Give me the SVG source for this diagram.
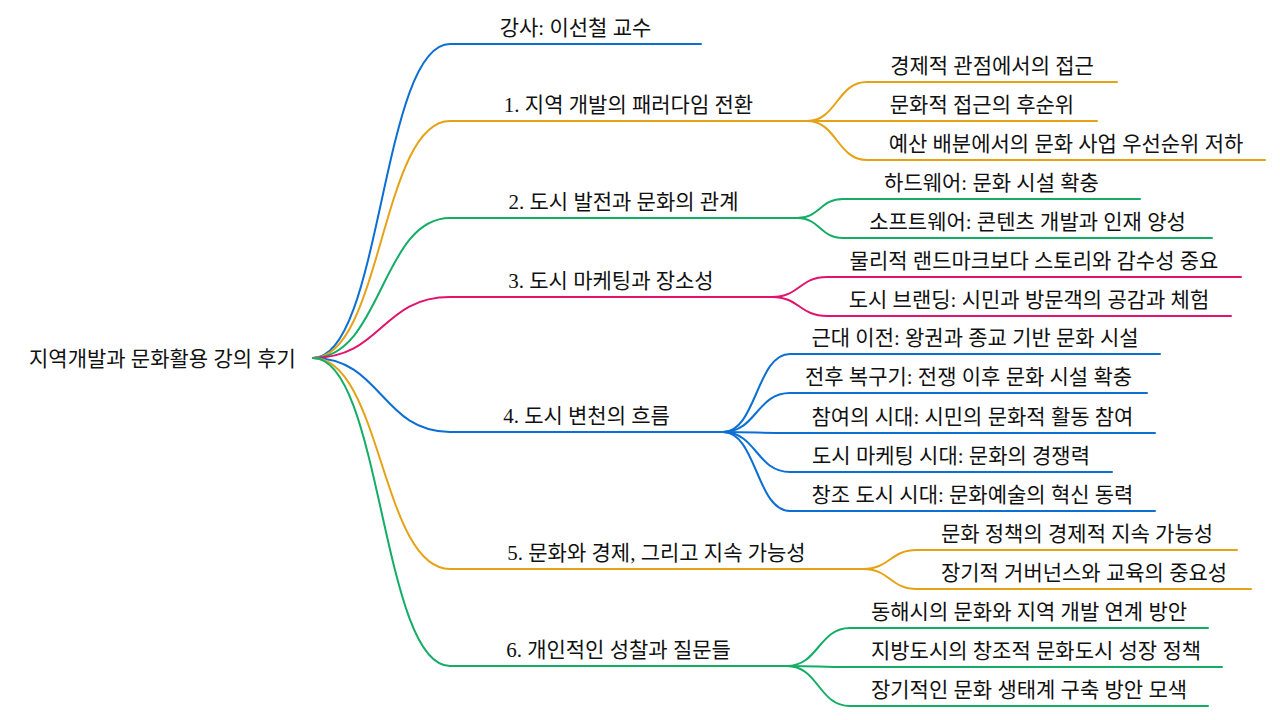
<svg xmlns="http://www.w3.org/2000/svg" width="1280" height="720" viewBox="0 0 1280 720">
<style>
text{font-family:"Liberation Serif","Noto Sans CJK KR",sans-serif;font-size:21px;fill:#111;text-anchor:middle}
.root{text-anchor:start}
path,line{fill:none;stroke-width:2;stroke-linecap:round}
.b{stroke:#0b6fd3}.o{stroke:#e6a215}.g{stroke:#14ad66}.p{stroke:#e0146d}
</style>
<rect width="1280" height="720" fill="#fff"/>
<g id="connectors">
<path class="b" d="M313,358 C381.5,358 381.5,44 450,44"/>
<path class="o" d="M313,358 C381.5,358 381.5,121 450,121"/>
<path class="g" d="M313,358 C381.5,358 381.5,218 450,218"/>
<path class="p" d="M313,358 C381.5,358 381.5,297 450,297"/>
<path class="b" d="M313,358 C381.5,358 381.5,432 450,432"/>
<path class="o" d="M313,358 C381.5,358 381.5,569 450,569"/>
<path class="g" d="M313,358 C381.5,358 381.5,666 450,666"/>
<path class="o" d="M807,121 C837,121 837,82 867,82"/>
<path class="o" d="M807,121 C837,121 837,121 867,121"/>
<path class="o" d="M807,121 C837,121 837,160 867,160"/>
<path class="g" d="M797,218 C820,218 820,199 843,199"/>
<path class="g" d="M797,218 C820,218 820,238 843,238"/>
<path class="p" d="M772,297 C799.5,297 799.5,277 827,277"/>
<path class="p" d="M772,297 C799.5,297 799.5,316 827,316"/>
<path class="b" d="M723,432 C756.5,432 756.5,354 790,354"/>
<path class="b" d="M723,432 C756.5,432 756.5,393 790,393"/>
<path class="b" d="M723,432 C756.5,432 756.5,433 790,433"/>
<path class="b" d="M723,432 C756.5,432 756.5,472 790,472"/>
<path class="b" d="M723,432 C756.5,432 756.5,511 790,511"/>
<path class="o" d="M863,569 C890,569 890,550 917,550"/>
<path class="o" d="M863,569 C890,569 890,589 917,589"/>
<path class="g" d="M787,666 C818.5,666 818.5,628 850,628"/>
<path class="g" d="M787,666 C818.5,666 818.5,667 850,667"/>
<path class="g" d="M787,666 C818.5,666 818.5,706 850,706"/>
</g>
<g id="root"><text class="root" x="29" y="366">지역개발과 문화활용 강의 후기</text></g>
<g id="n0"><line class="b" x1="450" y1="44" x2="701" y2="44"/><text x="575.5" y="35">강사: 이선철 교수</text></g>
<g id="n1"><line class="o" x1="450" y1="121" x2="807" y2="121"/><text x="628.5" y="112">1. 지역 개발의 패러다임 전환</text></g>
<g id="n1a"><line class="o" x1="867" y1="82" x2="1117" y2="82"/><text x="992" y="73">경제적 관점에서의 접근</text></g>
<g id="n1b"><line class="o" x1="867" y1="121" x2="1097" y2="121"/><text x="982" y="112">문화적 접근의 후순위</text></g>
<g id="n1c"><line class="o" x1="867" y1="160" x2="1265" y2="160"/><text x="1066" y="151">예산 배분에서의 문화 사업 우선순위 저하</text></g>
<g id="n2"><line class="g" x1="450" y1="218" x2="797" y2="218"/><text x="623.5" y="209">2. 도시 발전과 문화의 관계</text></g>
<g id="n2a"><line class="g" x1="843" y1="199" x2="1140" y2="199"/><text x="991.5" y="190">하드웨어: 문화 시설 확충</text></g>
<g id="n2b"><line class="g" x1="843" y1="238" x2="1212" y2="238"/><text x="1027.5" y="229">소프트웨어: 콘텐츠 개발과 인재 양성</text></g>
<g id="n3"><line class="p" x1="450" y1="297" x2="772" y2="297"/><text x="611" y="288">3. 도시 마케팅과 장소성</text></g>
<g id="n3a"><line class="p" x1="827" y1="277" x2="1241" y2="277"/><text x="1034" y="268">물리적 랜드마크보다 스토리와 감수성 중요</text></g>
<g id="n3b"><line class="p" x1="827" y1="316" x2="1231" y2="316"/><text x="1029" y="307">도시 브랜딩: 시민과 방문객의 공감과 체험</text></g>
<g id="n4"><line class="b" x1="450" y1="432" x2="723" y2="432"/><text x="586.5" y="423">4. 도시 변천의 흐름</text></g>
<g id="n4a"><line class="b" x1="790" y1="354" x2="1160" y2="354"/><text x="975" y="345">근대 이전: 왕권과 종교 기반 문화 시설</text></g>
<g id="n4b"><line class="b" x1="790" y1="393" x2="1147" y2="393"/><text x="968.5" y="384">전후 복구기: 전쟁 이후 문화 시설 확충</text></g>
<g id="n4c"><line class="b" x1="790" y1="433" x2="1155" y2="433"/><text x="972.5" y="424">참여의 시대: 시민의 문화적 활동 참여</text></g>
<g id="n4d"><line class="b" x1="790" y1="472" x2="1112" y2="472"/><text x="951" y="463">도시 마케팅 시대: 문화의 경쟁력</text></g>
<g id="n4e"><line class="b" x1="790" y1="511" x2="1155" y2="511"/><text x="972.5" y="502">창조 도시 시대: 문화예술의 혁신 동력</text></g>
<g id="n5"><line class="o" x1="450" y1="569" x2="863" y2="569"/><text x="656.5" y="560">5. 문화와 경제, 그리고 지속 가능성</text></g>
<g id="n5a"><line class="o" x1="917" y1="550" x2="1237" y2="550"/><text x="1077" y="541">문화 정책의 경제적 지속 가능성</text></g>
<g id="n5b"><line class="o" x1="917" y1="589" x2="1251" y2="589"/><text x="1084" y="580">장기적 거버넌스와 교육의 중요성</text></g>
<g id="n6"><line class="g" x1="450" y1="666" x2="787" y2="666"/><text x="618.5" y="657">6. 개인적인 성찰과 질문들</text></g>
<g id="n6a"><line class="g" x1="850" y1="628" x2="1208" y2="628"/><text x="1029" y="619">동해시의 문화와 지역 개발 연계 방안</text></g>
<g id="n6b"><line class="g" x1="850" y1="667" x2="1222" y2="667"/><text x="1036" y="658">지방도시의 창조적 문화도시 성장 정책</text></g>
<g id="n6c"><line class="g" x1="850" y1="706" x2="1208" y2="706"/><text x="1029" y="697">장기적인 문화 생태계 구축 방안 모색</text></g>
</svg>
